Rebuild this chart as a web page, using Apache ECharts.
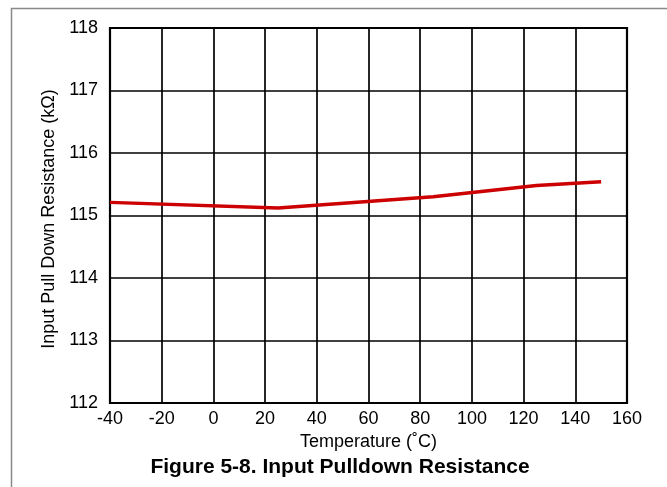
<!DOCTYPE html>
<html>
<head>
<meta charset="utf-8">
<script src="https://cdn.jsdelivr.net/npm/echarts@6/dist/echarts.min.js"></script>
<style>html,body{margin:0;padding:0;background:#fff;}#c{width:667px;height:487px;}</style>
</head>
<body>
<div id="c"></div>
<script>
var temperatures = [-40, 25, 85, 125, 150];
var resistance = [115.21, 115.12, 115.30, 115.48, 115.54];
var xTicks = [-40, -20, 0, 20, 40, 60, 80, 100, 120, 140, 160];
var yTicks = [112, 113, 114, 115, 116, 117, 118];

var chart = echarts.init(document.getElementById('c'), null, {renderer: 'canvas'});
var font = 'Liberation Sans, Arial, sans-serif';
chart.setOption({
  animation: false,
  backgroundColor: '#fff',
  grid: {left: 110, top: 28, right: 40, bottom: 84, show: true, borderColor: '#000', borderWidth: 2.2, backgroundColor: 'transparent'},
  graphic: [{
    type: 'rect', left: 9, top: 6, silent: true,
    shape: {width: 700, height: 520},
    style: {fill: 'none', stroke: '#888', lineWidth: 1.5}
  }, {
    type: 'text', x: 340, y: 467, silent: true,
    style: {text: 'Figure 5-8. Input Pulldown Resistance', font: 'bold 21px Liberation Sans, Arial, sans-serif',
      fill: '#000', textAlign: 'center', textVerticalAlign: 'middle'}
  }, {
    type: 'text', x: 49, y: 219, rotation: Math.PI / 2, silent: true,
    style: {text: 'Input Pull Down Resistance (kΩ)', font: '18px Liberation Sans, Arial, sans-serif',
      fill: '#000', textAlign: 'center', textVerticalAlign: 'middle'}
  }],
  xAxis: {
    type: 'value', min: xTicks[0], max: xTicks[xTicks.length - 1], interval: 20,
    name: 'Temperature (˚C)', nameLocation: 'middle', nameGap: 28,
    nameTextStyle: {fontFamily: font, fontSize: 18, color: '#000'},
    axisLine: {show: false}, axisTick: {show: false},
    axisLabel: {fontFamily: font, fontSize: 18, color: '#000', margin: 7},
    splitLine: {show: true, lineStyle: {color: '#000', width: 1.7}}
  },
  yAxis: {
    type: 'value', min: yTicks[0], max: yTicks[yTicks.length - 1], interval: 1,
    axisLine: {show: false}, axisTick: {show: false},
    axisLabel: {fontFamily: font, fontSize: 18, color: '#000', margin: 12},
    splitLine: {show: true, lineStyle: {color: '#000', width: 1.7}}
  },
  series: [{
    type: 'line',
    data: temperatures.map(function (t, i) { return [t, resistance[i]]; }),
    showSymbol: false, symbol: 'none',
    lineStyle: {color: '#CC0000', width: 3.5},
    z: 5
  }]
});
</script>
</body>
</html>
